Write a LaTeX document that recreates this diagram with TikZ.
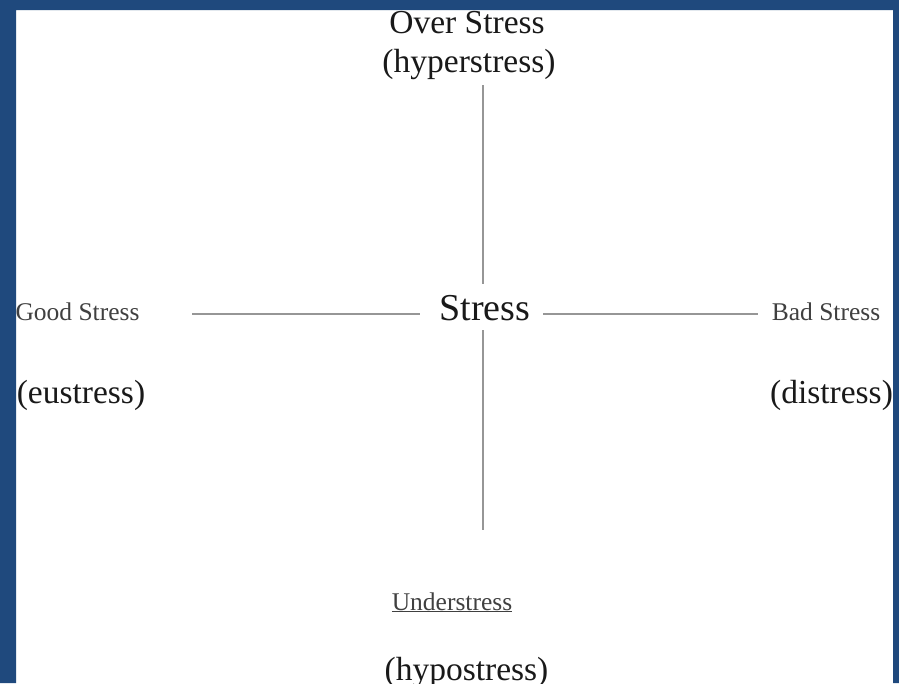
\documentclass[tikz,border=0pt]{standalone}
\usepackage{fontspec}
\setmainfont{Liberation Serif}
\definecolor{frameblue}{RGB}{31,73,125}
\definecolor{linegray}{RGB}{150,150,150}
\tikzset{
  lbl/.style={anchor=base, inner sep=0pt, text=black!90},
  small/.style={lbl, text=black!75, font=\fontsize{25.5}{26}\selectfont},
  big/.style={lbl, font=\fontsize{33.5}{34}\selectfont},
  axis/.style={draw=linegray, line width=2.2pt}
}
\begin{document}
\begin{tikzpicture}[x=1pt,y=-1pt]
\useasboundingbox (0,0) rectangle (899,683);
\clip (0,0) rectangle (899,683);
\fill[white] (0,0) rectangle (899,683);

% texts
\node[big] (over) at (467,33) {Over Stress};
\node[big] (hyper) at (469,72) {(hyperstress)};
\node[lbl, font=\fontsize{38}{38}\selectfont] (stress) at (485,320) {Stress};
\node[small] (good) at (77.5,320) {Good Stress};
\node[big] (eu) at (81,403) {(eustress)};
\node[small] (bad) at (826,320) {Bad Stress};
\node[big] (dis) at (831.5,403) {(distress)};
\node[small] (under) at (452,610) {\underline{Understress}};
\node[big] (hypo) at (466.5,680) {(hypostress)};

% line end points
\coordinate (vt1) at (483,85);
\coordinate (vt2) at (483,284);
\coordinate (vb1) at (483,330);
\coordinate (vb2) at (483,530);
\coordinate (hl1) at (192,314);
\coordinate (hl2) at (420,314);
\coordinate (hr1) at (543,314);
\coordinate (hr2) at (758,314);

\draw[axis] (vt1) -- (vt2);
\draw[axis] (vb1) -- (vb2);
\draw[axis] (hl1) -- (hl2);
\draw[axis] (hr1) -- (hr2);

% blue frame (left, top, right; open at the bottom)
\fill[frameblue] (0,0) -- (899,0) -- (899,683) -- (893,683) -- (893,10) -- (16,10) -- (16,683) -- (0,683) -- cycle;
\end{tikzpicture}
\end{document}
